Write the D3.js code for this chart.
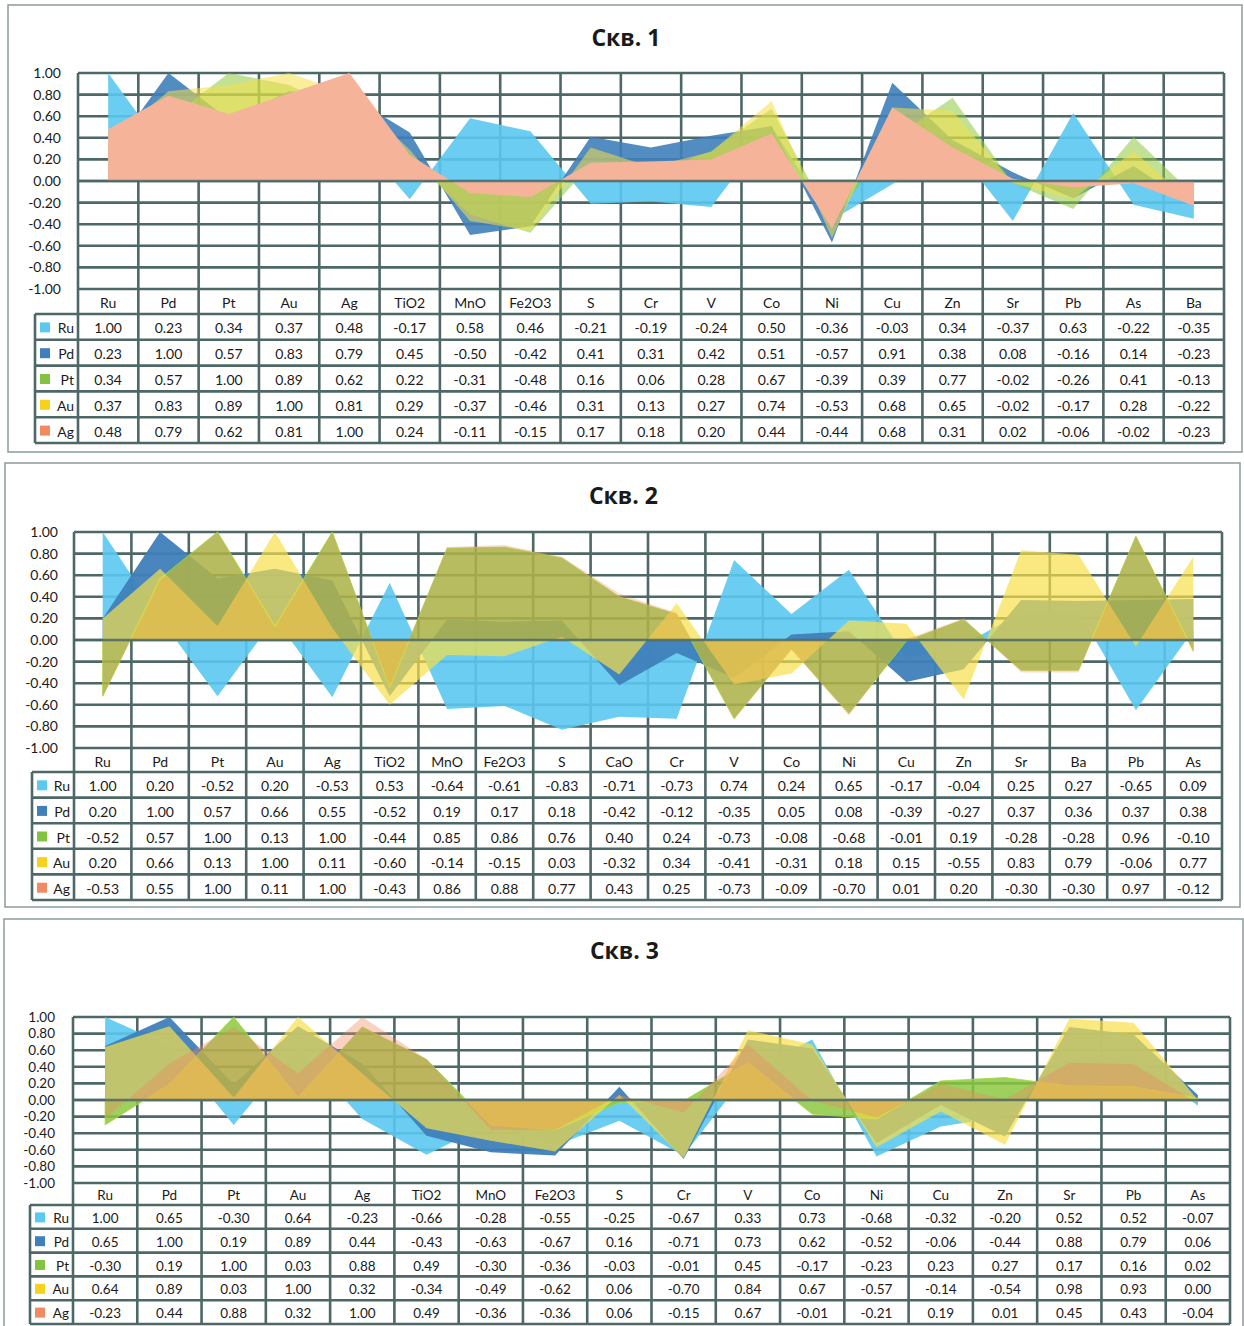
<!DOCTYPE html>
<html><head><meta charset="utf-8">
<script src="https://cdn.jsdelivr.net/npm/d3@7/dist/d3.min.js"></script>
<style>
body{margin:0;background:#fff;}
svg text{font-family:Lato,"Open Sans","Noto Sans",sans-serif;fill:#1a1a1a;}
</style></head>
<body>
<svg id="c" width="1244" height="1326"></svg>
<script>
// ---------- data ----------
const seriesNames = ["Ru","Pd","Pt","Au","Ag"];
const yTicks = [1.00,0.80,0.60,0.40,0.20,0.00,-0.20,-0.40,-0.60,-0.80,-1.00];

const titles = ["Скв. 1","Скв. 2","Скв. 3"];

const cats1 = ["Ru","Pd","Pt","Au","Ag","TiO2","MnO","Fe2O3","S","Cr","V","Co","Ni","Cu","Zn","Sr","Pb","As","Ba"];
const ru1 = [1.00,0.23,0.34,0.37,0.48,-0.17,0.58,0.46,-0.21,-0.19,-0.24,0.50,-0.36,-0.03,0.34,-0.37,0.63,-0.22,-0.35];
const pd1 = [0.23,1.00,0.57,0.83,0.79,0.45,-0.50,-0.42,0.41,0.31,0.42,0.51,-0.57,0.91,0.38,0.08,-0.16,0.14,-0.23];
const pt1 = [0.34,0.57,1.00,0.89,0.62,0.22,-0.31,-0.48,0.16,0.06,0.28,0.67,-0.39,0.39,0.77,-0.02,-0.26,0.41,-0.13];
const au1 = [0.37,0.83,0.89,1.00,0.81,0.29,-0.37,-0.46,0.31,0.13,0.27,0.74,-0.53,0.68,0.65,-0.02,-0.17,0.28,-0.22];
const ag1 = [0.48,0.79,0.62,0.81,1.00,0.24,-0.11,-0.15,0.17,0.18,0.20,0.44,-0.44,0.68,0.31,0.02,-0.06,-0.02,-0.23];

const cats2 = ["Ru","Pd","Pt","Au","Ag","TiO2","MnO","Fe2O3","S","CaO","Cr","V","Co","Ni","Cu","Zn","Sr","Ba","Pb","As"];
const ru2 = [1.00,0.20,-0.52,0.20,-0.53,0.53,-0.64,-0.61,-0.83,-0.71,-0.73,0.74,0.24,0.65,-0.17,-0.04,0.25,0.27,-0.65,0.09];
const pd2 = [0.20,1.00,0.57,0.66,0.55,-0.52,0.19,0.17,0.18,-0.42,-0.12,-0.35,0.05,0.08,-0.39,-0.27,0.37,0.36,0.37,0.38];
const pt2 = [-0.52,0.57,1.00,0.13,1.00,-0.44,0.85,0.86,0.76,0.40,0.24,-0.73,-0.08,-0.68,-0.01,0.19,-0.28,-0.28,0.96,-0.10];
const au2 = [0.20,0.66,0.13,1.00,0.11,-0.60,-0.14,-0.15,0.03,-0.32,0.34,-0.41,-0.31,0.18,0.15,-0.55,0.83,0.79,-0.06,0.77];
const ag2 = [-0.53,0.55,1.00,0.11,1.00,-0.43,0.86,0.88,0.77,0.43,0.25,-0.73,-0.09,-0.70,0.01,0.20,-0.30,-0.30,0.97,-0.12];

const cats3 = ["Ru","Pd","Pt","Au","Ag","TiO2","MnO","Fe2O3","S","Cr","V","Co","Ni","Cu","Zn","Sr","Pb","As"];
const ru3 = [1.00,0.65,-0.30,0.64,-0.23,-0.66,-0.28,-0.55,-0.25,-0.67,0.33,0.73,-0.68,-0.32,-0.20,0.52,0.52,-0.07];
const pd3 = [0.65,1.00,0.19,0.89,0.44,-0.43,-0.63,-0.67,0.16,-0.71,0.73,0.62,-0.52,-0.06,-0.44,0.88,0.79,0.06];
const pt3 = [-0.30,0.19,1.00,0.03,0.88,0.49,-0.30,-0.36,-0.03,-0.01,0.45,-0.17,-0.23,0.23,0.27,0.17,0.16,0.02];
const au3 = [0.64,0.89,0.03,1.00,0.32,-0.34,-0.49,-0.62,0.06,-0.70,0.84,0.67,-0.57,-0.14,-0.54,0.98,0.93,0.00];
const ag3 = [-0.23,0.44,0.88,0.32,1.00,0.49,-0.36,-0.36,0.06,-0.15,0.67,-0.01,-0.21,0.19,0.01,0.45,0.43,-0.04];

// ---------- styles / layout ----------
const colors = {Ru:"#5bc8f0",Pd:"#3f7fba",Pt:"#8cc83f",Au:"#f6e04a",Ag:"#f08a60"};
const keyColors = {Ru:"#5bc8f0",Pd:"#3f7fba",Pt:"#84c341",Au:"#f6d21e",Ag:"#f08a60"};
const opac = [
  {Ru:0.9,Pd:0.9,Pt:0.55,Au:0.55,Ag:1},
  {Ru:0.9,Pd:0.95,Pt:0.82,Au:0.7,Ag:0.3},
  {Ru:0.9,Pd:0.95,Pt:0.85,Au:0.7,Ag:0.38}
];
const agColor1 = "#f5b49a";
const grid = "#4e6767";

const layouts = [
  {box:[8,5,1242,452], titleY:37, x0:78, x1:1224, yt:73, yb:289, lblH:25, rowH:25.8, legL:35, yLblX:61, fs:14},
  {box:[5,463,1240,907], titleY:495, x0:74, x1:1222, yt:532, yb:748, lblH:24, rowH:25.6, legL:32, yLblX:58, fs:14},
  {box:[4,919,1243,1340], titleY:950, x0:73, x1:1230, yt:1017, yb:1183, lblH:22, rowH:23.8, legL:30, yLblX:55, fs:13.5}
];

const panelData = [
  {cats:cats1, vals:[ru1,pd1,pt1,au1,ag1]},
  {cats:cats2, vals:[ru2,pd2,pt2,au2,ag2]},
  {cats:cats3, vals:[ru3,pd3,pt3,au3,ag3]}
];

const svg = d3.select("#c");
const loc = d3.formatLocale({decimal:".",thousands:",",grouping:[3],currency:["",""],minus:"-"});
const fmt = loc.format(".2f");

panelData.forEach((pd, pi) => {
  const L = layouts[pi];
  const g = svg.append("g");
  // outer box
  g.append("rect").attr("x",L.box[0]).attr("y",L.box[1])
    .attr("width",L.box[2]-L.box[0]).attr("height",L.box[3]-L.box[1])
    .attr("fill","#fff").attr("stroke","#8d9b9b").attr("stroke-width",1.5);
  // title
  g.append("text").attr("x",(L.box[0]+L.box[2])/2+1).attr("y",L.titleY)
    .attr("text-anchor","middle").attr("dominant-baseline","central")
    .style("font-family","'Open Sans',Lato,sans-serif")
    .style("font-weight","700").style("font-size","23px").text(titles[pi]);

  const x = d3.scaleBand().domain(pd.cats).range([L.x0,L.x1]);
  const y = d3.scaleLinear().domain([-1,1]).range([L.yb,L.yt]);
  const bw = x.bandwidth();
  const tableBottom = L.yb + L.lblH + 5*L.rowH;

  // horizontal gridlines
  g.selectAll(".hg").data(yTicks).enter().append("line")
    .attr("x1",L.x0).attr("x2",L.x1).attr("y1",d=>y(d)).attr("y2",d=>y(d))
    .attr("stroke",grid).attr("stroke-width",2.6);
  // vertical gridlines (category boundaries) through the table
  const bounds = pd.cats.map(c=>x(c)).concat([L.x1]);
  g.selectAll(".vg").data(bounds).enter().append("line")
    .attr("x1",d=>d).attr("x2",d=>d).attr("y1",L.yt).attr("y2",tableBottom)
    .attr("stroke",grid).attr("stroke-width",2.6);

  // areas
  const area = d3.area()
    .x((d,i)=>x(pd.cats[i])+bw/2)
    .y0(y(0)).y1(d=>y(d));
  seriesNames.forEach((s,si)=>{
    let fill = colors[s];
    if (pi===0 && s==="Ag") fill = agColor1;
    g.append("path").datum(pd.vals[si]).attr("d",area)
      .attr("fill",fill).attr("fill-opacity",opac[pi][s])
      .attr("stroke", (pi>0 && s==="Pt") ? "#a6d83a" : "none")
      .attr("stroke-width",1).attr("stroke-opacity",0.8);
  });
  // zero axis line on top
  g.append("line").attr("x1",L.x0).attr("x2",L.x1).attr("y1",y(0)).attr("y2",y(0))
    .attr("stroke",grid).attr("stroke-width",2.6).attr("stroke-opacity",0.85);

  // y axis labels
  const yAxis = d3.axisLeft(y).tickValues(yTicks).tickFormat(fmt).tickSize(0).tickPadding(0);
  const ya = g.append("g").attr("transform",`translate(${L.yLblX},0)`).call(yAxis);
  ya.select(".domain").remove();
  ya.selectAll("text").style("font-size",L.fs+"px").style("font-family","Lato,sans-serif").attr("fill","#1a1a1a");

  // table horizontal lines
  const rowLines = [L.yb+L.lblH];
  for (let r=1;r<=5;r++) rowLines.push(L.yb+L.lblH+r*L.rowH);
  g.selectAll(".tr").data(rowLines).enter().append("line")
    .attr("x1",L.legL).attr("x2",L.x1).attr("y1",d=>d).attr("y2",d=>d)
    .attr("stroke",grid).attr("stroke-width",2.6);
  // legend column left border
  g.append("line").attr("x1",L.legL).attr("x2",L.legL)
    .attr("y1",L.yb+L.lblH).attr("y2",tableBottom)
    .attr("stroke",grid).attr("stroke-width",2.6);

  // category labels row
  g.selectAll(".cl").data(pd.cats).enter().append("text")
    .attr("x",d=>x(d)+bw/2).attr("y",L.yb+L.lblH/2+1)
    .attr("text-anchor","middle").attr("dominant-baseline","central")
    .style("font-size",L.fs+"px").text(d=>d);

  // table rows
  seriesNames.forEach((s,si)=>{
    const cy = L.yb+L.lblH+si*L.rowH+L.rowH/2+1;
    g.append("rect").attr("x",L.legL+5).attr("y",cy-5.5).attr("width",10).attr("height",10)
      .attr("fill",keyColors[s]);
    g.append("text").attr("x",L.x0-4).attr("y",cy).attr("text-anchor","end")
      .attr("dominant-baseline","central").style("font-size",L.fs+"px").text(s);
    g.selectAll(".v"+si).data(pd.vals[si]).enter().append("text")
      .attr("x",(d,i)=>x(pd.cats[i])+bw/2).attr("y",cy)
      .attr("text-anchor","middle").attr("dominant-baseline","central")
      .style("font-size",L.fs+"px").text(d=>fmt(d));
  });
});
</script>
</body></html>
